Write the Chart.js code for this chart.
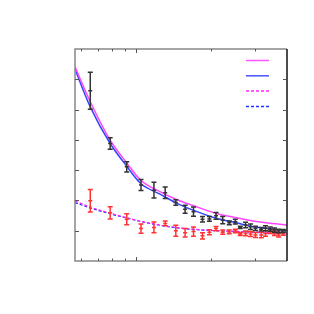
<!DOCTYPE html>
<html>
<head>
<meta charset="utf-8">
<script src="https://cdn.jsdelivr.net/npm/chart.js@4.4.1/dist/chart.umd.min.js"></script>
<style>
  html, body { margin: 0; padding: 0; background: #fff; }
  #wrap { width: 314px; height: 314px; }
</style>
</head>
<body>
<div id="wrap"><canvas id="myChart" width="314" height="314"></canvas></div>
<script>
// measured points (same x for both sets)
const xVals = [6.53, 7.85, 9.15, 10.44, 11.77, 13.06, 14.41, 15.7, 16.97, 18.44, 19.66, 20.9, 22.23,
  23.63, 24.98, 26.16, 27.47, 28.76, 30.1, 31.75, 33.03, 34.5, 35.88, 37.3, 38.97];
const blackY = [5.62, 3.88, 3.11, 2.51, 2.34, 2.25, 1.93, 1.71, 1.63, 1.38, 1.39, 1.49, 1.35,
  1.26, 1.30, 1.11, 1.19, 1.13, 1.08, 1.05, 1.08, 1.05, 1.02, 0.99, 0.99];
const blackErr = [0.61, 0.19, 0.17, 0.18, 0.26, 0.19, 0.09, 0.13, 0.15, 0.09, 0.08, 0.11, 0.12,
  0.06, 0.08, 0.04, 0.09, 0.09, 0.07, 0.06, 0.08, 0.07, 0.07, 0.06, 0.05];
const redY = [1.99, 1.59, 1.38, 1.07, 1.11, 1.24, 1.00, 0.93, 0.97, 0.83, 0.95, 1.07, 0.95,
  0.96, 0.99, 0.89, 0.91, 0.89, 0.86, 0.86, 0.91, 0.97, 0.91, 0.86, 0.91];
const redErr = [0.37, 0.20, 0.18, 0.15, 0.18, 0.08, 0.18, 0.14, 0.15, 0.10, 0.08, 0.07, 0.07,
  0.06, 0.06, 0.05, 0.08, 0.08, 0.08, 0.09, 0.09, 0.06, 0.07, 0.07, 0.06];

// curves
const curveX = [5.67, 6.53, 7.85, 9.15, 10.44, 12.44, 14.41, 16.9, 20.97, 25.2, 29.4, 33.2, 40.3];
const magSolid = [6.41, 5.26, 3.99, 3.24, 2.66, 2.29, 2.04, 1.83, 1.57, 1.43, 1.32, 1.26, 1.19];
const blueSolid = [6.33, 5.09, 3.88, 3.13, 2.55, 2.21, 1.92, 1.68, 1.41, 1.26, 1.13, 1.08, 1.00];
const magDash = [1.98, 1.78, 1.58, 1.43, 1.31, 1.19, 1.11, 1.05, 1.00, 0.98, 0.96, 0.94, 0.91];
const blueDash = [1.93, 1.75, 1.56, 1.42, 1.30, 1.18, 1.10, 1.04, 1.00, 0.97, 0.95, 0.93, 0.90];

const xMinor = [6, 7, 8, 9, 20, 30];
const xMajor = [10];
const yTicks = [1, 2, 3, 4, 5, 6];

function pts(xs, ys) { return xs.map((x, i) => ({x: x, y: ys[i]})); }

const ctx = document.getElementById('myChart');

const frameAndBars = {
  id: 'frameAndBars',
  afterDatasetsDraw(chart) {
    const c = chart.ctx, a = chart.chartArea;
    const sx = chart.scales.x, sy = chart.scales.y;
    c.save();
    // error bars
    function bars(ys, errs, col, w) {
      c.strokeStyle = col; c.lineWidth = w;
      xVals.forEach((x, i) => {
        const px = sx.getPixelForValue(x);
        const top = sy.getPixelForValue(ys[i] + errs[i]);
        const bot = sy.getPixelForValue(ys[i] - errs[i]);
        const mid = sy.getPixelForValue(ys[i]);
        c.beginPath();
        c.moveTo(px, top); c.lineTo(px, bot);
        c.moveTo(px - 2.5, top); c.lineTo(px + 2.5, top);
        c.moveTo(px - 2.5, bot); c.lineTo(px + 2.5, bot);
        c.moveTo(px - 2, mid); c.lineTo(px + 2, mid);
        c.stroke();
      });
    }
    bars(redY, redErr, '#ff3333', 1.5);
    bars(blackY, blackErr, '#333333', 1.5);

    // frame
    c.lineWidth = 1.5;
    c.strokeStyle = '#888';
    c.beginPath();
    c.moveTo(a.right, a.top); c.lineTo(a.left, a.top); c.lineTo(a.left, a.bottom); c.lineTo(a.right, a.bottom);
    c.stroke();
    c.strokeStyle = '#111';
    c.beginPath();
    c.moveTo(a.right, a.top); c.lineTo(a.right, a.bottom);
    c.stroke();

    // ticks, inward
    c.lineWidth = 1;
    c.strokeStyle = '#555';
    c.beginPath();
    xMinor.concat(xMajor).forEach(v => {
      const px = Math.round(sx.getPixelForValue(v)) + 0.5;
      const len = xMajor.includes(v) ? 4 : 2.5;
      c.moveTo(px, a.bottom); c.lineTo(px, a.bottom - len);
      c.moveTo(px, a.top); c.lineTo(px, a.top + len);
    });
    yTicks.forEach(v => {
      const py = Math.round(sy.getPixelForValue(v)) + 0.5;
      c.moveTo(a.left, py); c.lineTo(a.left + 4, py);
      c.moveTo(a.right, py); c.lineTo(a.right - 4, py);
    });
    c.stroke();

    // legend samples (no labels in the original)
    const samples = [
      ['#ff55ff', []], ['#4455ff', []], ['#ff22ff', [3, 2]], ['#2233ff', [3, 2]]
    ];
    samples.forEach((s, i) => {
      const y = 60.5 + i * 15.3;
      c.strokeStyle = s[0]; c.lineWidth = 1.5; c.setLineDash(s[1]);
      c.beginPath(); c.moveTo(246, y); c.lineTo(269, y); c.stroke();
    });
    c.setLineDash([]);
    c.restore();
  }
};

new Chart(ctx, {
  type: 'scatter',
  data: {
    datasets: [
      { data: pts(curveX, magDash), showLine: true, borderColor: '#ff22ff', borderWidth: 1.2, borderDash: [3, 2], pointRadius: 0, cubicInterpolationMode: 'monotone' },
      { data: pts(curveX, blueDash), showLine: true, borderColor: '#2233ff', borderWidth: 1.2, borderDash: [3, 2], pointRadius: 0, cubicInterpolationMode: 'monotone' },
      { data: pts(curveX, magSolid), showLine: true, borderColor: '#ff44ff', borderWidth: 1.5, pointRadius: 0, cubicInterpolationMode: 'monotone' },
      { data: pts(curveX, blueSolid), showLine: true, borderColor: '#3344ff', borderWidth: 1.5, pointRadius: 0, cubicInterpolationMode: 'monotone' }
    ]
  },
  options: {
    responsive: false,
    animation: false,
    layout: { padding: { left: 75, top: 49, right: 27, bottom: 53 } },
    plugins: { legend: { display: false }, tooltip: { enabled: false } },
    scales: {
      x: { type: 'logarithmic', min: 5.67, max: 40.3, display: false },
      y: { type: 'linear', min: 0, max: 7, display: false }
    }
  },
  plugins: [frameAndBars]
});
</script>
</body>
</html>
